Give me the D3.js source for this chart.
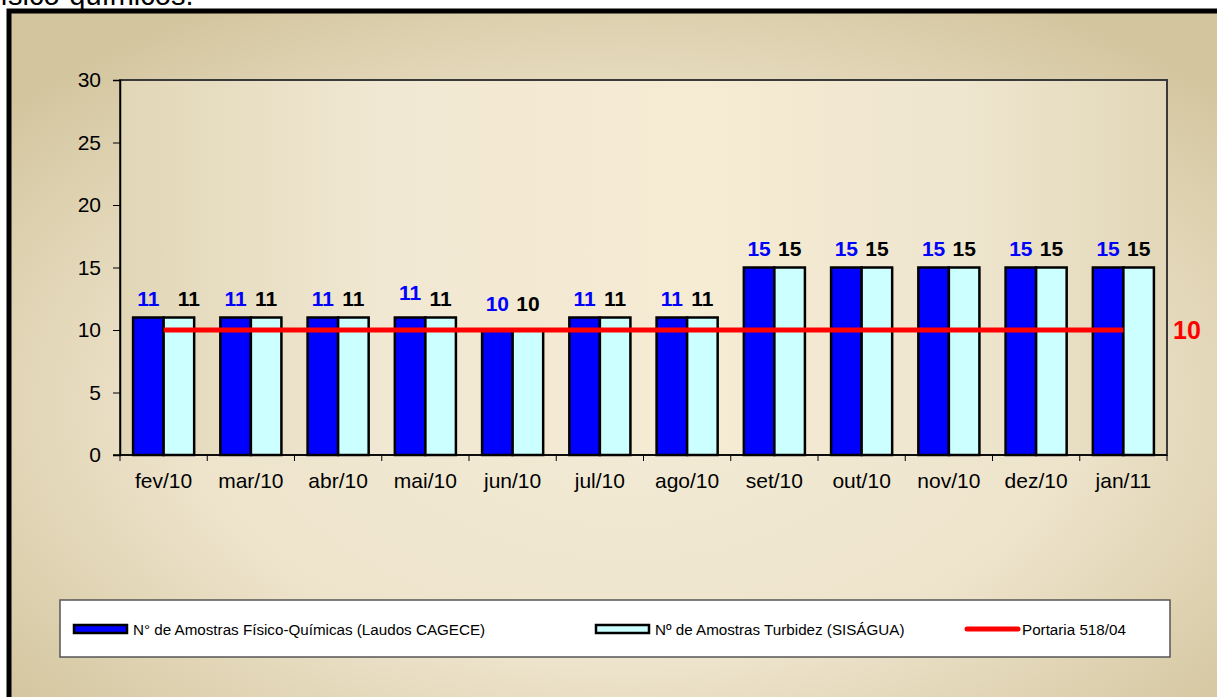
<!DOCTYPE html>
<html>
<head>
<meta charset="utf-8">
<script src="https://cdn.jsdelivr.net/npm/d3@7"></script>
<style>
  body { margin: 0; background: #fff; }
  svg { display: block; font-family: "Liberation Sans", Arial, sans-serif; }
</style>
</head>
<body>
<div id="chart"></div>
<script>
// chart data
const months = ["fev/10", "mar/10", "abr/10", "mai/10", "jun/10", "jul/10", "ago/10", "set/10", "out/10", "nov/10", "dez/10", "jan/11"];
const fisicoQuimicas = [11, 11, 11, 11, 10, 11, 11, 15, 15, 15, 15, 15];
const turbidez = [11, 11, 11, 11, 10, 11, 11, 15, 15, 15, 15, 15];
const portaria = [10, 10, 10, 10, 10, 10, 10, 10, 10, 10, 10, 10];
const yTicks = [0, 5, 10, 15, 20, 25, 30];
const seriesNames = ["N° de Amostras Físico-Químicas (Laudos CAGECE)", "Nº de Amostras Turbidez (SISÁGUA)", "Portaria 518/04"];

const width = 1217, height = 697;
const plot = { left: 120, right: 1167, top: 80, bottom: 455 };

const svg = d3.select("#chart").append("svg")
    .attr("width", width)
    .attr("height", height);

const defs = svg.append("defs");

// outer background gradient
const bg = defs.append("radialGradient")
    .attr("id", "bgGrad")
    .attr("cx", "50%").attr("cy", "55%").attr("r", "65%");
bg.append("stop").attr("offset", "0%").attr("stop-color", "#f3ebd6");
bg.append("stop").attr("offset", "55%").attr("stop-color", "#eee4cc");
bg.append("stop").attr("offset", "100%").attr("stop-color", "#d3c59e");

// plot area gradient
const pg = defs.append("linearGradient")
    .attr("id", "plotGrad")
    .attr("x1", "0%").attr("x2", "100%").attr("y1", "0%").attr("y2", "0%");
pg.append("stop").attr("offset", "0%").attr("stop-color", "#e1d6b6");
pg.append("stop").attr("offset", "25%").attr("stop-color", "#f1e8d3");
pg.append("stop").attr("offset", "55%").attr("stop-color", "#f6ebd3");
pg.append("stop").attr("offset", "80%").attr("stop-color", "#efe6cf");
pg.append("stop").attr("offset", "100%").attr("stop-color", "#e2d7b8");

// fragment of document text above the chart
svg.append("text")
    .attr("x", -8)
    .attr("y", 5)
    .attr("font-size", 29)
    .attr("fill", "#000")
    .text("físico-químicos.");

// chart frame
svg.append("rect")
    .attr("x", 9).attr("y", 11)
    .attr("width", width + 20).attr("height", height + 20)
    .attr("fill", "url(#bgGrad)")
    .attr("stroke", "#000")
    .attr("stroke-width", 5);

// plot area
svg.append("rect")
    .attr("x", plot.left).attr("y", plot.top)
    .attr("width", plot.right - plot.left).attr("height", plot.bottom - plot.top)
    .attr("fill", "url(#plotGrad)")
    .attr("stroke", "#3a3a3a")
    .attr("stroke-width", 2);

const x = d3.scaleBand()
    .domain(months)
    .range([plot.left, plot.right])
    .paddingInner(0.3)
    .paddingOuter(0.15);

const xOuter = d3.scaleBand()
    .domain(months)
    .range([plot.left, plot.right]);

const y = d3.scaleLinear()
    .domain([0, 30])
    .range([plot.bottom, plot.top]);

const xSub = d3.scaleBand()
    .domain([0, 1])
    .range([0, x.bandwidth()]);

// y axis
const yAxis = svg.append("g")
    .attr("transform", `translate(${plot.left},0)`)
    .call(d3.axisLeft(y).tickValues(yTicks).tickSize(7).tickPadding(12));
yAxis.select(".domain").attr("stroke", "#000").attr("stroke-width", 1.5);
yAxis.selectAll(".tick line").attr("stroke", "#000");
yAxis.selectAll(".tick text")
    .attr("font-size", 21)
    .attr("font-family", "Liberation Sans, Arial, sans-serif")
    .attr("fill", "#000");

// x axis (ticks at category boundaries)
const xAxis = svg.append("g")
    .attr("transform", `translate(0,${plot.bottom})`);
xAxis.append("line")
    .attr("x1", plot.left - 7).attr("x2", plot.right)
    .attr("stroke", "#000").attr("stroke-width", 1.5);
xAxis.selectAll(".xtick")
    .data(months.concat(["end"]))
    .join("line")
    .attr("class", "xtick")
    .attr("x1", (d, i) => i < months.length ? xOuter(d) : plot.right)
    .attr("x2", (d, i) => i < months.length ? xOuter(d) : plot.right)
    .attr("y1", 0).attr("y2", 6)
    .attr("stroke", "#000");
xAxis.selectAll(".xlabel")
    .data(months)
    .join("text")
    .attr("class", "xlabel")
    .attr("x", d => xOuter(d) + xOuter.bandwidth() / 2)
    .attr("y", 33)
    .attr("text-anchor", "middle")
    .attr("font-size", 21)
    .attr("fill", "#000")
    .text(d => d);

// bars
const series = [
    { values: fisicoQuimicas, fill: "#0000ff", labelColor: "#0000ff" },
    { values: turbidez, fill: "#ccffff", labelColor: "#000" }
];

series.forEach((s, si) => {
    svg.append("g").selectAll("rect")
        .data(s.values)
        .join("rect")
        .attr("x", (d, i) => x(months[i]) + xSub(si))
        .attr("y", d => y(d))
        .attr("width", xSub.bandwidth())
        .attr("height", d => y(0) - y(d))
        .attr("fill", s.fill)
        .attr("stroke", "#000")
        .attr("stroke-width", 2.5);
});

// Portaria line
const line = d3.line()
    .x((d, i) => x(months[i]) + x.bandwidth() / 2)
    .y(d => y(d));
svg.append("path")
    .datum(portaria)
    .attr("d", line)
    .attr("fill", "none")
    .attr("stroke", "#ff0000")
    .attr("stroke-width", 5);

// value labels
series.forEach((s, si) => {
    svg.append("g").selectAll("text")
        .data(s.values)
        .join("text")
        .attr("x", (d, i) => x(months[i]) + xSub(si) + xSub.bandwidth() / 2 + (si === 1 && i === 0 ? 10 : 0))
        .attr("y", (d, i) => y(d) - (i === 4 ? 19 : 12) - (si === 0 && i === 3 ? 6 : 0))
        .attr("text-anchor", "middle")
        .attr("font-size", 21)
        .attr("font-weight", "bold")
        .attr("fill", s.labelColor)
        .text(d => d);
});

// Portaria value label
svg.append("text")
    .attr("x", plot.right + 6)
    .attr("y", y(portaria[portaria.length - 1]) + 9)
    .attr("font-size", 25)
    .attr("font-weight", "bold")
    .attr("fill", "#ff0000")
    .text(portaria[portaria.length - 1]);

// legend
const legend = svg.append("g");
legend.append("rect")
    .attr("x", 60).attr("y", 600)
    .attr("width", 1110).attr("height", 57)
    .attr("fill", "#fff")
    .attr("stroke", "#555")
    .attr("stroke-width", 1.5);

const legendItems = [
    { x: 74, type: "rect", fill: "#0000ff", text: seriesNames[0] },
    { x: 596, type: "rect", fill: "#ccffff", text: seriesNames[1] },
    { x: 967, type: "line", fill: "#ff0000", text: seriesNames[2] }
];

legendItems.forEach(item => {
    if (item.type === "rect") {
        legend.append("rect")
            .attr("x", item.x).attr("y", 625)
            .attr("width", 53).attr("height", 8)
            .attr("fill", item.fill)
            .attr("stroke", "#000")
            .attr("stroke-width", 2.5);
    } else {
        legend.append("line")
            .attr("x1", item.x).attr("x2", item.x + 51)
            .attr("y1", 629).attr("y2", 629)
            .attr("stroke", item.fill)
            .attr("stroke-width", 5)
            .attr("stroke-linecap", "round");
    }
    legend.append("text")
        .attr("x", item.x + (item.type === "rect" ? 59 : 55))
        .attr("y", 635)
        .attr("font-size", 15.2)
        .attr("fill", "#000")
        .text(item.text);
});
</script>
</body>
</html>
